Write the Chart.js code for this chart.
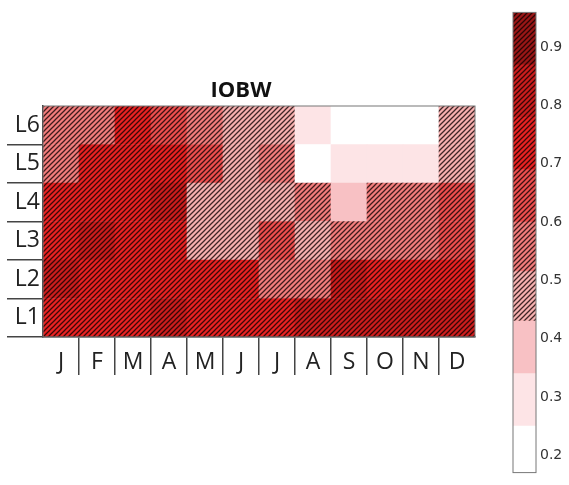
<!DOCTYPE html>
<html>
<head>
<meta charset="utf-8">
<script src="https://cdn.jsdelivr.net/npm/chart.js@4.4.0/dist/chart.umd.min.js"></script>
<style>
  body { margin: 0; background: #fff; }
  #wrap { position: relative; width: 569px; height: 485px; }
  #heat { position: absolute; left: 0; top: 0; }
  #bar { position: absolute; left: 490px; top: 0; }
</style>
</head>
<body>
<div id="wrap">
  <canvas id="heat" width="490" height="400"></canvas>
  <canvas id="bar" width="79" height="485"></canvas>
</div>
<script>
const months = ["J", "F", "M", "A", "M", "J", "J", "A", "S", "O", "N", "D"]
const rows = ["L1", "L2", "L3", "L4", "L5", "L6"]

// one value per month, for each level
const L1 = [0.75, 0.76, 0.76, 0.80, 0.76, 0.76, 0.75, 0.80, 0.85, 0.80, 0.78, 0.80]
const L2 = [0.80, 0.77, 0.75, 0.75, 0.72, 0.72, 0.58, 0.55, 0.82, 0.75, 0.75, 0.75]
const L3 = [0.74, 0.80, 0.76, 0.76, 0.48, 0.48, 0.62, 0.47, 0.58, 0.56, 0.56, 0.60]
const L4 = [0.73, 0.74, 0.74, 0.80, 0.50, 0.50, 0.44, 0.53, 0.38, 0.52, 0.52, 0.65]
const L5 = [0.57, 0.74, 0.73, 0.72, 0.65, 0.50, 0.55, 0.20, 0.30, 0.30, 0.30, 0.50]
const L6 = [0.58, 0.58, 0.72, 0.65, 0.53, 0.50, 0.45, 0.30, 0.20, 0.20, 0.20, 0.50]

// colour bar
const levels = [0.17, 0.25, 0.34, 0.43, 0.515, 0.6, 0.69, 0.78, 0.87, 0.96]
const colorbarTicks = [0.2, 0.3, 0.4, 0.5, 0.6, 0.7, 0.8, 0.9]
const bandColors = ["#ffffff", "#fde4e6", "#f8c1c4", "#f7b0b0", "#f37c7c", "#ee4e4e", "#e82222", "#cc1d1d", "#9a1616"]
const hatchFrom = 0.43

const patterns = {}
function hatch(color) {
    if (patterns[color]) return patterns[color]
    const s = 5
    const c = document.createElement("canvas")
    c.width = s
    c.height = s
    const g = c.getContext("2d")
    g.fillStyle = color
    g.fillRect(0, 0, s, s)
    g.strokeStyle = "rgba(10,0,0,0.78)"
    g.lineWidth = 1.25
    g.beginPath()
    g.moveTo(-1, s + 1); g.lineTo(s + 1, -1)
    g.moveTo(-1, 1); g.lineTo(1, -1)
    g.moveTo(s - 1, s + 1); g.lineTo(s + 1, s - 1)
    g.stroke()
    patterns[color] = g.createPattern(c, "repeat")
    return patterns[color]
}

function fillFor(v) {
    let i = 0
    while (i < bandColors.length - 1 && v >= levels[i + 1]) i++
    return v >= hatchFrom ? hatch(bandColors[i]) : bandColors[i]
}

const frame = {
    id: "frame",
    afterDatasetsDraw(chart) {
        const { ctx, chartArea: a } = chart
        ctx.save()
        ctx.strokeStyle = "#777"
        ctx.lineWidth = 1
        ctx.strokeRect(a.left, a.top, a.right - a.left, a.bottom - a.top)
        ctx.restore()
    }
}

const rowTicks = []
for (let i = 0; i <= rows.length; i++) {
    rowTicks.push(i)
    if (i < rows.length) rowTicks.push(i + 0.5)
}

const heatValues = [L1, L2, L3, L4, L5, L6]
const font = "'Open Sans', sans-serif"

new Chart(document.querySelector("#heat"), {
    type: "bar",
    data: {
        labels: months,
        datasets: heatValues.map((vals, r) => ({
            label: rows[r],
            data: vals.map(() => 1),
            backgroundColor: vals.map(fillFor),
            borderWidth: 0,
            barPercentage: 1,
            categoryPercentage: 1,
        })),
    },
    options: {
        responsive: false,
        animation: false,
        devicePixelRatio: 1,
        layout: { padding: { left: 7, right: 15, top: 77.6, bottom: 23 } },
        plugins: {
            legend: { display: false },
            tooltip: { enabled: false },
            title: {
                display: true,
                text: "IOBW",
                color: "#111",
                font: { family: font, size: 22, weight: "bold" },
                padding: { top: 0, bottom: 2 },
            },
        },
        scales: {
            x: {
                stacked: true,
                grid: {
                    offset: true,
                    drawOnChartArea: false,
                    tickLength: 38,
                    lineWidth: 1.5,
                    color: ctx => (ctx.index > 0 && ctx.index < months.length) ? "#444" : "transparent",
                },
                border: { color: "#333", width: 1.5 },
                ticks: {
                    autoSkip: false,
                    maxRotation: 0,
                    padding: -26,
                    color: "#222",
                    font: { family: font, size: 23 },
                },
                afterFit: s => { s.height = 40 },
            },
            y: {
                stacked: true,
                min: 0,
                max: rows.length,
                afterBuildTicks: s => { s.ticks = rowTicks.map(v => ({ value: v })) },
                grid: {
                    drawOnChartArea: false,
                    tickLength: 36,
                    lineWidth: 1.5,
                    color: ctx => (ctx.tick && Number.isInteger(ctx.tick.value) && ctx.tick.value < rows.length) ? "#444" : "transparent",
                },
                border: { color: "#333", width: 1.5 },
                ticks: {
                    autoSkip: false,
                    padding: -33,
                    color: "#222",
                    font: { family: font, size: 23 },
                    callback: v => Number.isInteger(v) ? "" : rows[Math.floor(v)],
                },
                afterFit: s => { s.width = 36 },
            },
        },
    },
    plugins: [frame],
})

new Chart(document.querySelector("#bar"), {
    type: "bar",
    data: {
        labels: [""],
        datasets: bandColors.map((c, i) => ({
            data: [[levels[i], levels[i + 1]]],
            backgroundColor: fillFor((levels[i] + levels[i + 1]) / 2),
            borderWidth: 0,
            barPercentage: 1,
            categoryPercentage: 1,
        })),
    },
    options: {
        responsive: false,
        animation: false,
        devicePixelRatio: 1,
        layout: { padding: { left: 23, right: 0, top: 8, bottom: 4 } },
        plugins: { legend: { display: false }, tooltip: { enabled: false } },
        scales: {
            x: { display: false, stacked: true },
            y: {
                position: "right",
                min: levels[0],
                max: levels[levels.length - 1],
                afterBuildTicks: s => { s.ticks = colorbarTicks.map(v => ({ value: v })) },
                grid: { display: false, drawTicks: false },
                border: { display: false },
                ticks: {
                    padding: 4,
                    color: "#333",
                    font: { family: "'DejaVu Sans', sans-serif", size: 14 },
                    callback: v => v.toFixed(1),
                },
                afterFit: s => { s.width = 33 },
            },
        },
    },
    plugins: [frame],
})
</script>
</body>
</html>
